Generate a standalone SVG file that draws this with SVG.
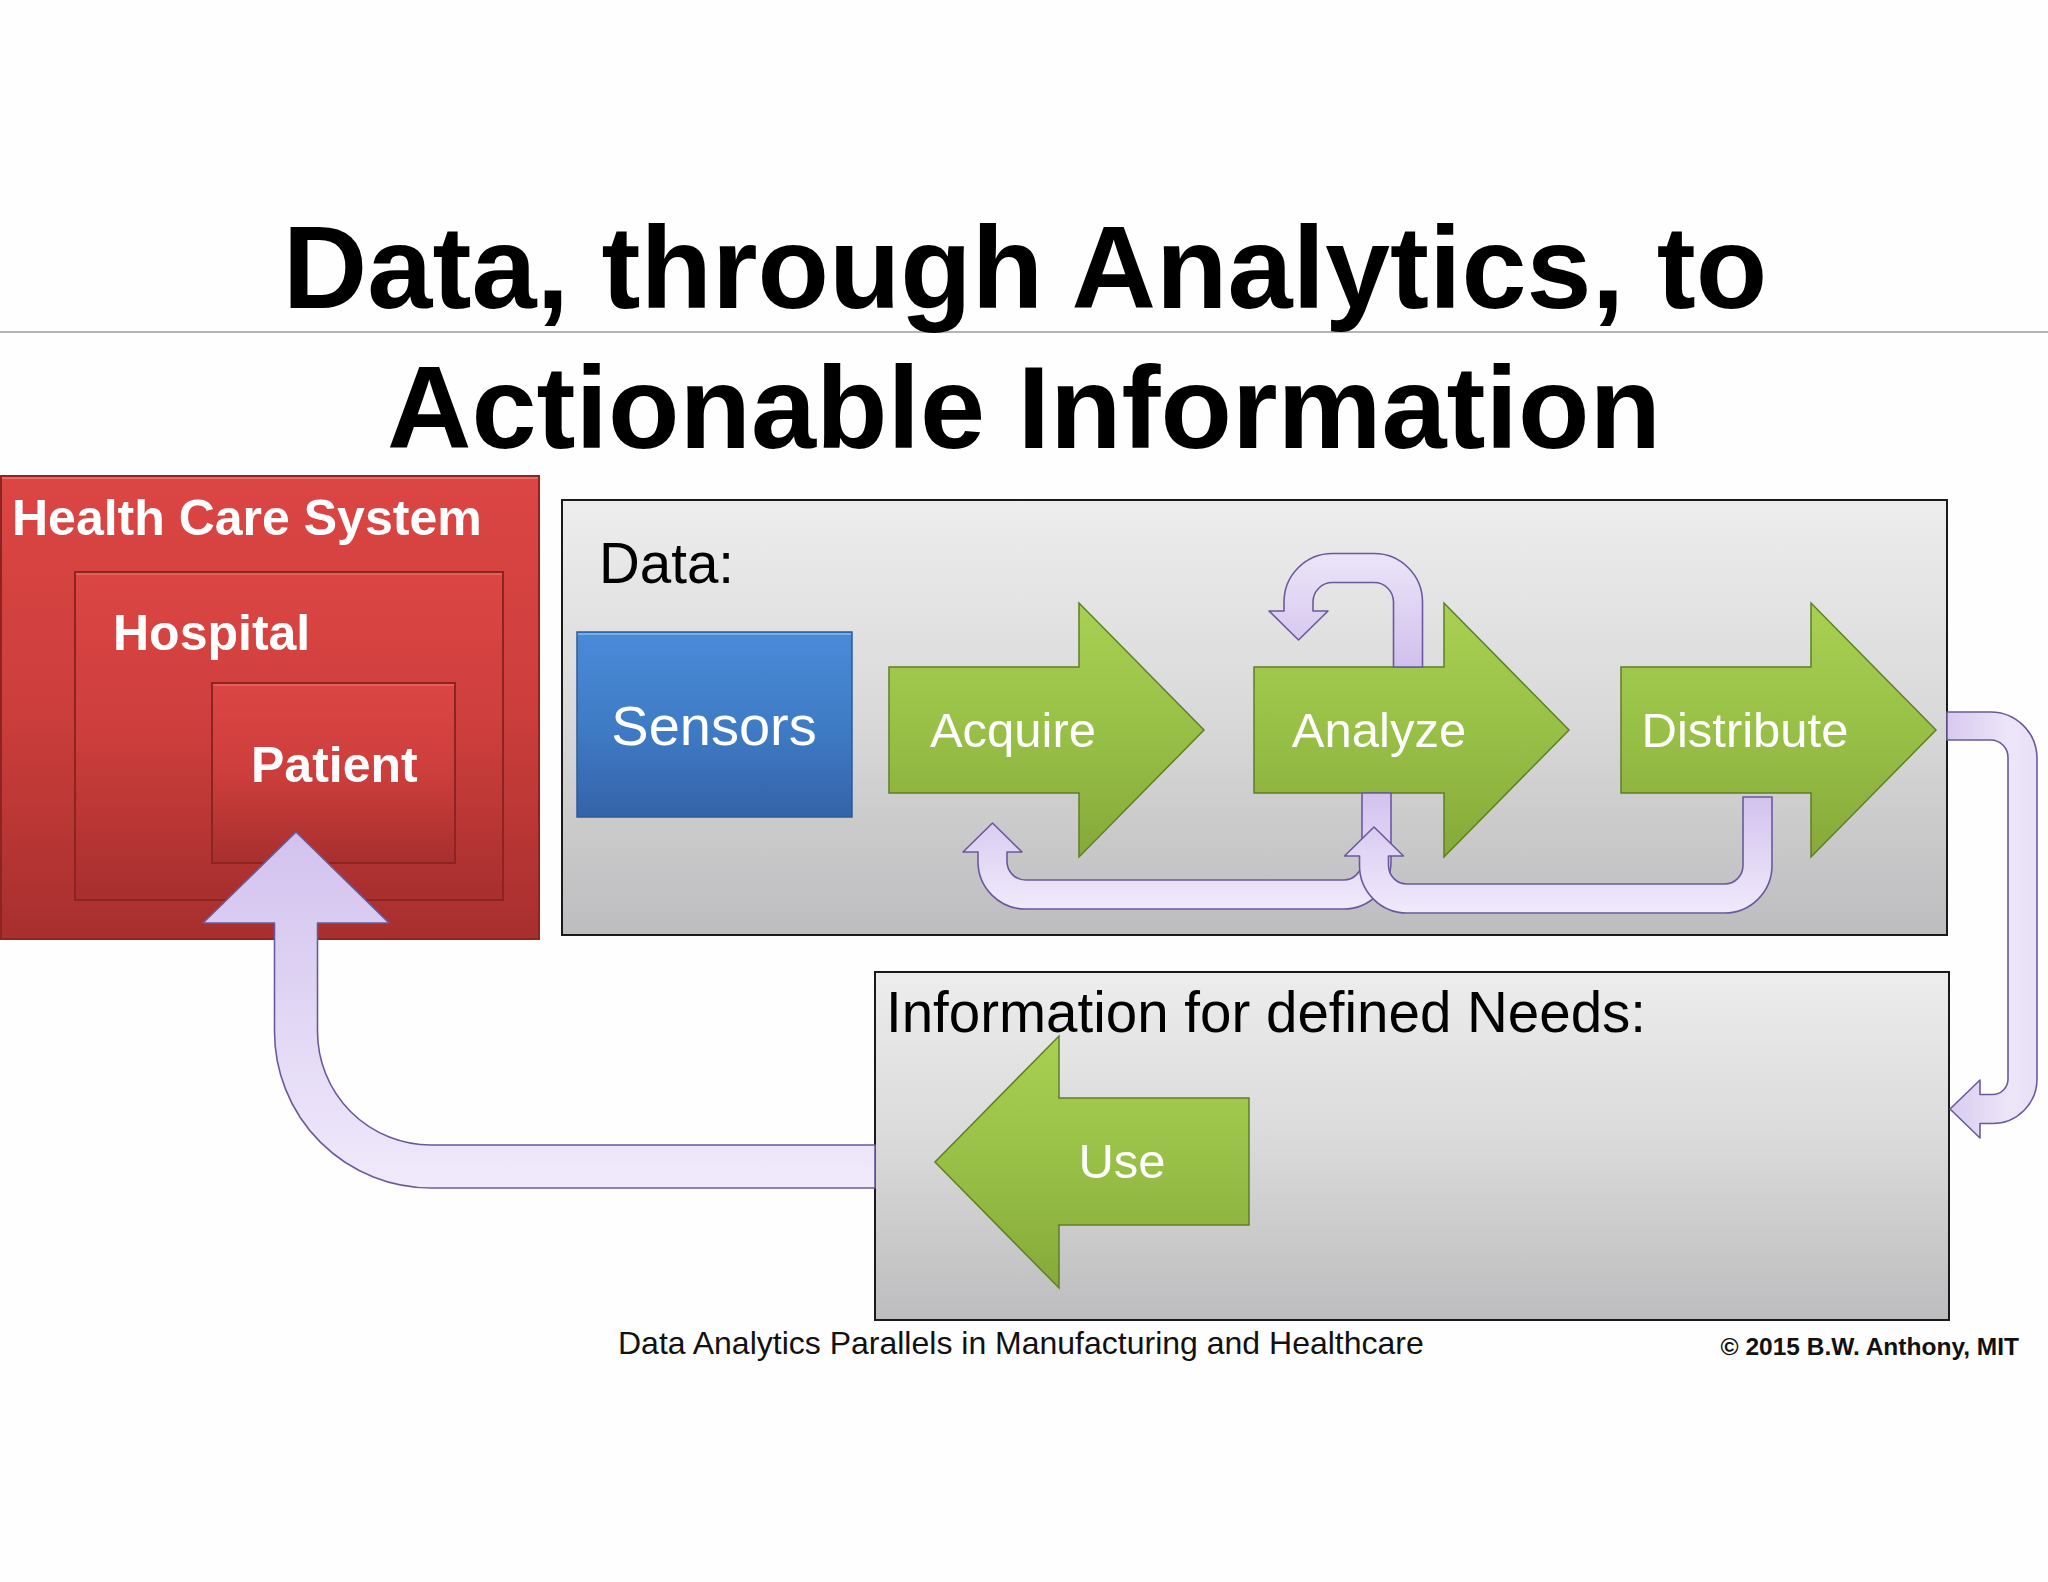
<svg xmlns="http://www.w3.org/2000/svg" width="2048" height="1582" viewBox="0 0 2048 1582">
<defs>
<style>
text{font-family:"Liberation Sans",Arial,Helvetica,sans-serif}
.title{font-size:117px;font-weight:bold;fill:#000;text-anchor:middle}
.hb{font-size:50px;font-weight:bold;fill:#fff}
.box{font-size:56.5px;fill:#000}
.lbl{font-size:49px;fill:#fff;text-anchor:middle}
.gray{fill:url(#gGray);stroke:#1a1a1a;stroke-width:2}
.red{fill:url(#gRed);stroke:#8e2422;stroke-width:2}
.green{fill:url(#gGreen);stroke:#5f7f24;stroke-width:1.5}
.flow{stroke:#6a5a9c;stroke-width:1.6;stroke-linejoin:round}
</style>
<linearGradient id="gGray" x1="0" y1="0" x2="0" y2="1">
<stop offset="0" stop-color="#ededed"/><stop offset="0.5" stop-color="#d9d9d9"/><stop offset="1" stop-color="#bdbcbe"/>
</linearGradient>
<linearGradient id="gRed" x1="0" y1="0" x2="0" y2="1">
<stop offset="0" stop-color="#dc4644"/><stop offset="0.5" stop-color="#cc3e3c"/><stop offset="1" stop-color="#a72f2e"/>
</linearGradient>
<linearGradient id="gBlue" x1="0" y1="0" x2="0" y2="1">
<stop offset="0" stop-color="#4a8ad8"/><stop offset="0.5" stop-color="#3f7cc6"/><stop offset="1" stop-color="#3463a8"/>
</linearGradient>
<linearGradient id="gGreen" x1="0" y1="0" x2="0" y2="1">
<stop offset="0" stop-color="#a8d052"/><stop offset="0.5" stop-color="#98c046"/><stop offset="1" stop-color="#86a93a"/>
</linearGradient>
<linearGradient id="gFlowDown" x1="0" y1="0" x2="0" y2="1">
<stop offset="0" stop-color="#d2c2ee"/><stop offset="1" stop-color="#f0eafb"/>
</linearGradient>
<linearGradient id="gFlowUp" x1="0" y1="0" x2="0" y2="1">
<stop offset="0" stop-color="#ece5f8"/><stop offset="1" stop-color="#d0c0ec"/>
</linearGradient>
<linearGradient id="gFlowSide" x1="0" y1="0" x2="1" y2="0">
<stop offset="0" stop-color="#d8caf0"/><stop offset="0.7" stop-color="#ede6f8"/><stop offset="1" stop-color="#e8e0f6"/>
</linearGradient>
</defs>

<rect x="0" y="0" width="2048" height="1582" fill="#fefefe"/>
<line x1="0" y1="332" x2="2048" y2="332" stroke="#b4b4b4" stroke-width="2"/>

<g id="title">
<text class="title" x="1025" y="308">Data, through Analytics, to</text>
<text class="title" x="1024" y="448">Actionable Information</text>
</g>

<g id="health-care-system">
<rect class="red" x="1" y="476" width="538" height="463"/>
<line x1="2" y1="478" x2="538" y2="478" stroke="#e86a66" stroke-width="2"/>
<text class="hb" x="12" y="535">Health Care System</text>
</g>
<g id="hospital">
<rect class="red" x="75" y="572" width="428" height="328"/>
<line x1="76" y1="574" x2="502" y2="574" stroke="#e45e5a" stroke-width="2"/>
<text class="hb" x="113" y="650">Hospital</text>
</g>
<g id="patient">
<rect class="red" x="212" y="683" width="243" height="180"/>
<line x1="213" y1="685" x2="454" y2="685" stroke="#e45e5a" stroke-width="2"/>
<text class="hb" x="251" y="782">Patient</text>
</g>

<g id="data">
<rect class="gray" x="562" y="500" width="1385" height="435"/>
<text class="box" x="599" y="583">Data:</text>
</g>
<g id="sensors">
<rect x="577" y="632" width="275" height="185" fill="url(#gBlue)" stroke="#2d5b98" stroke-width="1.5"/>
<line x1="578" y1="634" x2="851" y2="634" stroke="#78aef0" stroke-width="2"/>
<text x="714" y="745" font-size="56" fill="#fff" text-anchor="middle">Sensors</text>
</g>
<g id="acquire">
<path class="green" d="M889 667 H1079 V603 L1204 730 L1079 857 V793 H889 Z"/>
<text class="lbl" x="1013" y="747">Acquire</text>
</g>
<g id="analyze">
<path class="green" d="M1254 667 H1444 V603 L1569 730 L1444 857 V793 H1254 Z"/>
<text class="lbl" x="1379" y="747">Analyze</text>
</g>
<g id="distribute">
<path class="green" d="M1621 667 H1811 V603 L1936 730 L1811 857 V793 H1621 Z"/>
<text class="lbl" x="1745" y="747">Distribute</text>
</g>

<g id="information">
<rect class="gray" x="875" y="972" width="1074" height="348"/>
<text class="box" x="886" y="1032">Information for defined Needs:</text>
</g>
<g id="use">
<path class="green" d="M1249 1098 H1059 V1036 L935 1162 L1059 1288 V1225 H1249 Z"/>
<text class="lbl" x="1122" y="1178">Use</text>
</g>

<g id="connectors">
<path class="flow" fill="url(#gFlowDown)" d="M1362 793 L1391 793 L1391 861.5 A47.5 47.5 0 0 1 1343.5 909 L1025.5 909 A47.5 47.5 0 0 1 978 861.5 L978 852 L963 852 L992.5 823 L1022 852 L1007 852 L1007 861.5 A18.5 18.5 0 0 0 1025.5 880 L1343.5 880 A18.5 18.5 0 0 0 1362 861.5 Z"/>
<path class="flow" fill="url(#gFlowDown)" d="M1743 797 L1772 797 L1772 865.5 A47.5 47.5 0 0 1 1724.5 913 L1407 913 A47.5 47.5 0 0 1 1359.5 865.5 L1359.5 856 L1344.5 856 L1374 827 L1403.5 856 L1388.5 856 L1388.5 865.5 A18.5 18.5 0 0 0 1407 884 L1724.5 884 A18.5 18.5 0 0 0 1743 865.5 Z"/>
<path class="flow" fill="url(#gFlowUp)" d="M1393.5 667 L1393.5 602 A19.5 19.5 0 0 0 1374 582.5 L1332.5 582.5 A19.5 19.5 0 0 0 1313 602 L1313 611 L1328 611 L1298.5 640 L1269 611 L1284 611 L1284 602 A48.5 48.5 0 0 1 1332.5 553.5 L1374 553.5 A48.5 48.5 0 0 1 1422.5 602 L1422.5 667 Z"/>
<path class="flow" fill="url(#gFlowSide)" d="M1947 712 L1990.5 712 A46.5 46.5 0 0 1 2037 758 L2037 1079 A44.5 44.5 0 0 1 1992.5 1123.5 L1980 1123.5 L1980 1138 L1950 1109 L1980 1080 L1980 1094.5 L1992.5 1094.5 A15.5 15.5 0 0 0 2008 1079 L2008 758 A17.5 17.5 0 0 0 1990.5 740 L1947 740 Z"/>
<path class="flow" fill="url(#gFlowDown)" d="M875 1145 L431 1145 A113.5 113.5 0 0 1 317.5 1031.5 L317.5 923 L389 923 L296 832 L203 923 L274.5 923 L274.5 1031.5 A156.5 156.5 0 0 0 431 1188 L875 1188 Z"/>
</g>

<g id="footer">
<text x="618" y="1354" font-size="32" fill="#111">Data Analytics Parallels in Manufacturing and Healthcare</text>
<text x="2019" y="1355" font-size="24.5" font-weight="bold" fill="#111" text-anchor="end">© 2015 B.W. Anthony, MIT</text>
</g>
</svg>
